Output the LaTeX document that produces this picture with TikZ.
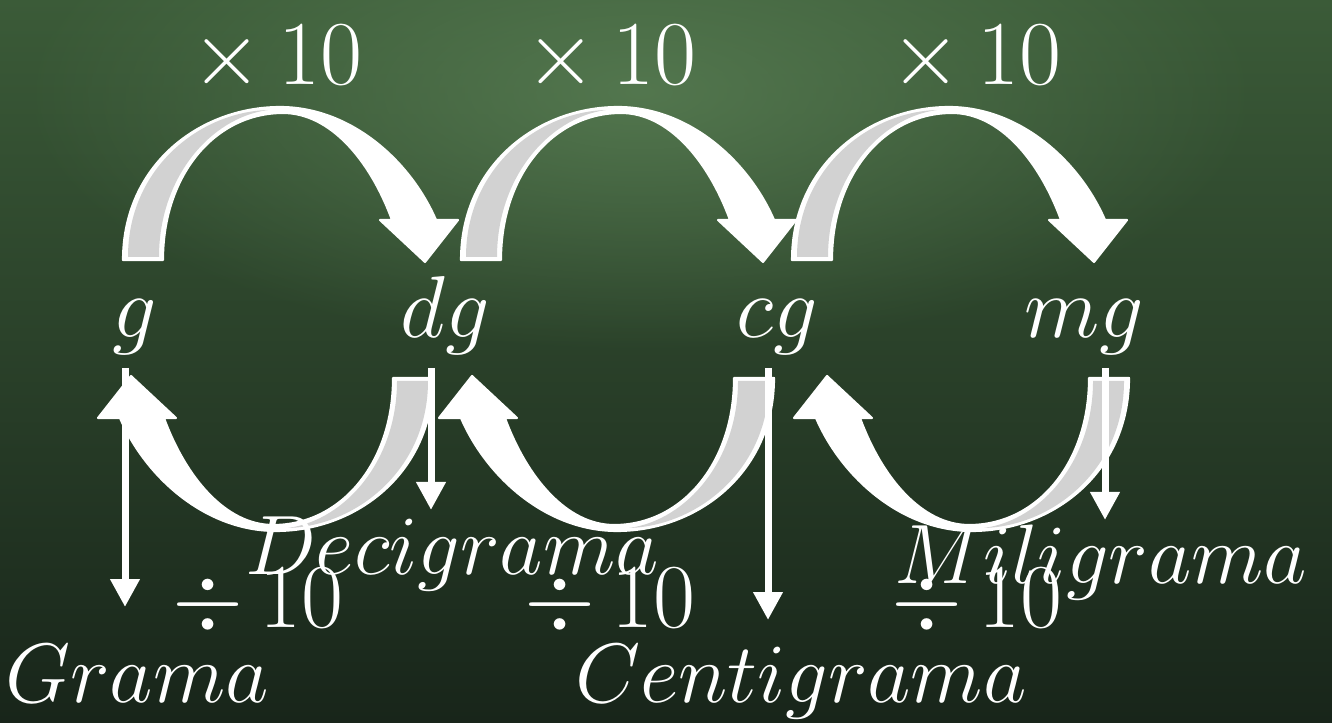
\RequirePackage{fix-cm}
\documentclass[tikz,border=0pt]{standalone}
\usepackage{xcolor}
\usepackage{tikz}
\usetikzlibrary{arrows.meta, fadings}
\definecolor{bgtop}{HTML}{3B5B38}
\definecolor{bgbot}{HTML}{18251A}
\definecolor{bglight}{HTML}{587D53}
\definecolor{ribbon}{HTML}{D2D2D2}
\tikzfading[name=softglow, inner color=transparent!15, outer color=transparent!100]

\begin{document}
\begin{tikzpicture}[x=1cm, y=1cm,
  band/.style={fill=white, draw=white, line width=0.6pt, line join=round},
  inside/.style={fill=ribbon},
  factor/.style={text=white, inner sep=0pt, anchor=base, font=\fontsize{26}{30}\selectfont},
  unit/.style={text=white, inner sep=0pt, anchor=base, font=\fontsize{25}{30}\selectfont},
  fullname/.style={text=white, inner sep=0pt, anchor=base, font=\fontsize{24}{28}\selectfont},
  vline/.style={white, line width=0.07cm, shorten <=0.12cm, -{Triangle[width=0.28cm, length=0.28cm]}}]
\useasboundingbox (0,0) rectangle (13.32,7.22);
% chalkboard
\shade[top color=bgtop, bottom color=bgbot] (0,0) rectangle (13.32,7.22);
\fill[bglight, path fading=softglow] (6.4,6.3) ellipse (6.2 and 2.6);
% ribbon arrows: top row x10, bottom row (turned round) /10
\foreach \dx/\rot in {0/0, 3.38/0, 6.69/0, 0/180, 3.41/180, 6.96/180} {
  \begin{scope}[xshift=\dx cm, rotate around={\rot:(2.78,4.03)}]
    \fill[band] (1.23,4.62) .. controls (1.23,5.57) and (2.00,6.15) .. (2.80,6.15)
      .. controls (3.50,6.15) and (4.10,5.62) .. (4.36,5.02)
      -- (4.58,5.02) -- (4.25,4.60) -- (3.80,5.02) -- (3.92,5.02)
      .. controls (3.70,5.62) and (3.30,6.09) .. (2.83,6.09)
      .. controls (2.15,6.09) and (1.63,5.47) .. (1.63,4.62) -- cycle;
    \fill[inside] (1.28,4.65) .. controls (1.28,5.54) and (2.00,6.10) .. (2.68,6.12)
      .. controls (2.10,6.04) and (1.59,5.44) .. (1.59,4.65) -- cycle;
  \end{scope}
}
\node[factor] (times1) at (2.77,6.37) {$\times\,10$};
\node[factor] (times2) at (6.11,6.37) {$\times\,10$};
\node[factor] (times3) at (9.76,6.37) {$\times\,10$};
\node[unit] (g) at (1.35,3.84) {$g$};
\node[unit] (dg) at (4.45,3.84) {$dg$};
\node[unit] (cg) at (7.77,3.84) {$cg$};
\node[unit] (mg) at (10.84,3.84) {$mg$};
\node[factor] (div1) at (2.58,0.95) {$\div\,10$};
\node[factor] (div2) at (6.10,0.95) {$\div\,10$};
\node[factor] (div3) at (9.77,0.95) {$\div\,10$};
\node[fullname] (grama) at (1.37,0.20) {$Grama$};
\node[fullname] (decigrama) at (4.52,1.48) {$Decigrama$};
\node[fullname] (centigrama) at (8.01,0.20) {$Centigrama$};
\node[fullname] (miligrama) at (11.01,1.39) {$Miligrama$};
% drop lines to the names
\coordinate (gend) at (1.25,1.15);
\coordinate (dgend) at (4.31,2.12);
\coordinate (cgend) at (7.68,1.02);
\coordinate (mgend) at (11.05,2.02);
\draw[vline] (g.south -| gend) -- (gend);
\draw[vline] (dg.south -| dgend) -- (dgend);
\draw[vline] (cg.south -| cgend) -- (cgend);
\draw[vline] (mg.south -| mgend) -- (mgend);
\end{tikzpicture}
\end{document}
